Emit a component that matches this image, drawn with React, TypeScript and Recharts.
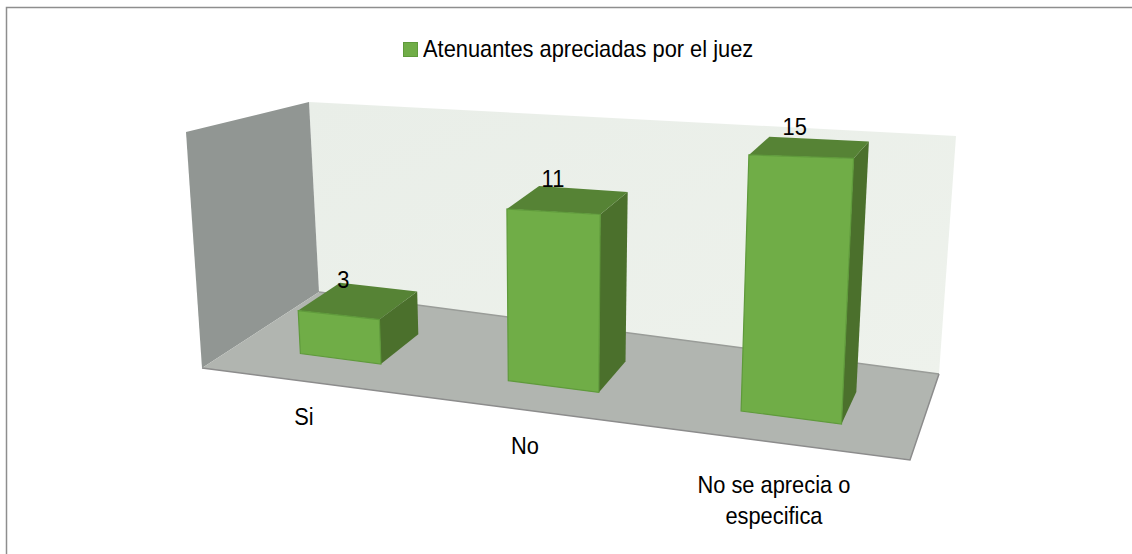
import { BarChart, Bar, XAxis, YAxis, Legend, LabelList, Customized } from "recharts"

const categories = ["Si", "No", "No se aprecia o especifica"]
const values = [3, 11, 15]
const seriesName = "Atenuantes apreciadas por el juez"
const yMax = 16

const chartData = categories.map((name, i) => ({ name, value: values[i] }))

type Pt = [number, number]

// room corners as seen in the picture: front-left, front-right, back-right, back-left
const FLOOR: Pt[] = [[202, 368], [910, 460], [939, 374], [319, 292]]
const CEILING: Pt[] = [[186, 132], [926, 146], [956, 136], [309, 102]]

const PLOT = { left: 200, width: 732, top: 100, height: 354 }
const LEGEND_HEIGHT = 26
const FONT = "Liberation Sans, Arial, sans-serif"
const FONT_SIZE = 24
const SQUEEZE = 0.91
const DEPTH_FRONT = 0.3
const DEPTH_BACK = 0.68
const TOP_LIFT = 30 // bar tops rise a bit faster with depth than the walls do

function quadMap(q: Pt[], u: number, v: number): Pt {
  const [a, b, c, d] = q
  const fx = a[0] + (b[0] - a[0]) * u
  const fy = a[1] + (b[1] - a[1]) * u
  const bx = d[0] + (c[0] - d[0]) * u
  const by = d[1] + (c[1] - d[1]) * u
  return [fx + (bx - fx) * v, fy + (by - fy) * v]
}

// plot x/y -> position in the tilted room
function project(px: number, py: number, depth: number): Pt {
  const t = (px - PLOT.left) / PLOT.width
  const u = 0.0084 + 0.8277 * t + 0.164 * t * t
  const h = (PLOT.top + PLOT.height - py) / PLOT.height
  const a = quadMap(FLOOR, u, depth)
  const b = quadMap(CEILING, u, depth)
  const lift = h * (depth - DEPTH_FRONT) * TOP_LIFT
  return [a[0] + (b[0] - a[0]) * h, a[1] + (b[1] - a[1]) * h - lift]
}

const pts = (list: Pt[]) => list.map((p) => p.map((n) => n.toFixed(1)).join(",")).join(" ")

function Room() {
  return (
    <g>
      <defs>
        <linearGradient id="wall" x1="0" y1="0" x2="1" y2="1">
          <stop offset="0" stopColor="#E9EEE8" />
          <stop offset="1" stopColor="#EEF2EC" />
        </linearGradient>
      </defs>
      <polyline points="6.5,554 6.5,7.5 1132,7.5" fill="none" stroke="#8e8e8e" strokeWidth={1.5} />
      <polygon points={pts([CEILING[3], CEILING[2], FLOOR[2], FLOOR[3]])} fill="url(#wall)" />
      <polygon points={pts([CEILING[0], CEILING[3], FLOOR[3], FLOOR[0]])} fill="#919693" />
      <polygon points={pts(FLOOR)} fill="#B1B5B0" />
      <polyline points={pts([FLOOR[3], FLOOR[2]])} fill="none" stroke="#999c98" strokeWidth={1.5} />
      <polyline points={pts([FLOOR[0], FLOOR[1], FLOOR[2]])} fill="none" stroke="#8c8c8c" strokeWidth={1.5} />
    </g>
  )
}

function Box3D(props: any) {
  const { x, y, width, height } = props
  const r = x + width
  const b = y + height
  const fbl = project(x, b, DEPTH_FRONT)
  const fbr = project(r, b, DEPTH_FRONT)
  const ftl = project(x, y, DEPTH_FRONT)
  const ftr = project(r, y, DEPTH_FRONT)
  const bbr = project(r, b, DEPTH_BACK)
  const btl = project(x, y, DEPTH_BACK)
  const btr = project(r, y, DEPTH_BACK)
  return (
    <g>
      <polygon points={pts([ftr, btr, bbr, fbr])} fill="#4B702C" />
      <polygon points={pts([ftl, ftr, btr, btl])} fill="#568335" />
      <polygon points={pts([ftl, ftr, fbr, fbl])} fill="#70AD47" stroke="#5F9A3B" strokeWidth={1.2} />
    </g>
  )
}

function ValueLabel(props: any) {
  const { x, y, width, value } = props
  const p = project(x + width / 2, y, (DEPTH_FRONT + DEPTH_BACK) / 2)
  return (
    <text
      transform={`translate(${p[0] - 15},${p[1] - 13}) scale(${SQUEEZE},1)`}
      textAnchor="middle"
      fontFamily={FONT}
      fontSize={FONT_SIZE}
      fill="#000"
    >
      {value}
    </text>
  )
}

function wrapLabel(text: string) {
  return text.length > 16 ? [text.slice(0, 15), text.slice(16)] : [text]
}

function CategoryTick(props: any) {
  const { x, payload } = props
  const lines = wrapLabel(payload.value)
  const p = project(x, PLOT.top + PLOT.height, 0)
  const multi = lines.length > 1
  const lx = p[0] + (multi ? -3 : -5)
  const ly = p[1] + (multi ? 50 : 43)
  return (
    <text
      transform={`translate(${lx},${ly}) scale(${SQUEEZE},1)`}
      textAnchor="middle"
      fontFamily={FONT}
      fontSize={FONT_SIZE}
      fill="#000"
    >
      {lines.map((line, i) => (
        <tspan key={line} x={0} y={i * 31}>
          {line}
        </tspan>
      ))}
    </text>
  )
}

function LegendBox(props: any) {
  const item = props.payload?.[0]
  if (!item) return null
  return (
    <div style={{ display: "flex", alignItems: "center", fontFamily: FONT, color: "#000", lineHeight: "26px" }}>
      <span style={{ width: 13, height: 13, background: "#70AD47", border: "1px solid #5F9A3B", marginRight: 5, flex: "none" }} />
      <span style={{ fontSize: FONT_SIZE, whiteSpace: "nowrap", transform: `scaleX(${SQUEEZE})`, transformOrigin: "left center" }}>
        {item.value}
      </span>
    </div>
  )
}

export default function App() {
  return (
    <div style={{ position: "absolute", left: 0, top: 0, width: 1132, height: 554 }}>
      <BarChart
        width={1132}
        height={554}
        data={chartData}
        barCategoryGap="30%"
        margin={{ top: PLOT.top - LEGEND_HEIGHT, right: 1132 - PLOT.left - PLOT.width, bottom: 70, left: PLOT.left }}
      >
        <Customized component={Room} />
        <XAxis dataKey="name" axisLine={false} tickLine={false} height={30} interval={0} tick={<CategoryTick />} />
        <YAxis hide domain={[0, yMax]} />
        <Legend
          verticalAlign="top"
          height={LEGEND_HEIGHT}
          content={<LegendBox />}
          wrapperStyle={{ left: 403, top: 36, width: 400 }}
        />
        <Bar dataKey="value" name={seriesName} fill="#70AD47" shape={<Box3D />} isAnimationActive={false}>
          <LabelList dataKey="value" content={<ValueLabel />} />
        </Bar>
      </BarChart>
    </div>
  )
}
